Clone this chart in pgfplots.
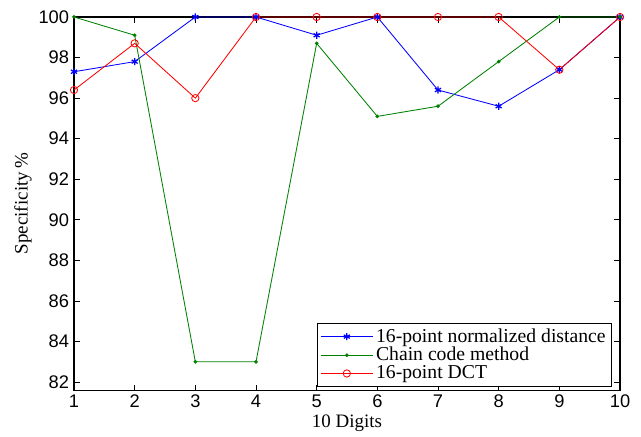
\documentclass[border=0pt]{standalone}
\usepackage{pgfplots}
\pgfplotsset{compat=1.18}
\usepackage{fontspec}
\setmainfont{Liberation Serif}
\newfontfamily\tickfont{Liberation Sans}
\begin{document}
\begin{tikzpicture}
\begin{axis}[
    name=ax,
    scale only axis,
    width=13.65cm, height=9.33cm,
    xmin=1, xmax=10, ymin=81.6, ymax=100,
    xtick={1,...,10},
    ytick={82,84,...,100},
    tick align=inside,
    major tick length=4pt,
    tick style={black, line width=0.6pt},
    axis line style={line width=0.8pt},
    ticklabel style={font=\tickfont\fontsize{13}{14}\selectfont},
    /pgf/number format/assume math mode=true,
    xlabel={10 Digits},
    ylabel={Specificity\,\%},
    label style={font=\fontsize{13.5}{14}\selectfont},
    xlabel style={yshift=2pt},
    ylabel style={yshift=-2pt},
    legend style={at={(0.985,0.008)}, anchor=south east, font=\fontsize{14}{15}\selectfont,
        draw=black, line width=0.8pt, row sep=-2pt, inner sep=2pt},
    legend cell align=left,
    legend image code/.code={\draw[#1] (0cm,0cm) -- (1.3cm,0cm); \draw[#1, only marks] plot coordinates {(0.65cm,0cm)};},
    clip=false,
]
\addplot[blue, line width=0.6pt, mark=asterisk, mark size=2.5pt, mark options={line width=0.9pt}] coordinates {
    (1,97.3) (2,97.8) (3,100) (4,100) (5,99.1) (6,100) (7,96.4) (8,95.6) (9,97.4) (10,100)
};
\addlegendentry{16-point normalized distance}
\addplot[black!50!green, line width=0.6pt, mark=*, mark size=1pt] coordinates {
    (1,100) (2,99.1) (3,83.0) (4,83.0) (5,98.7) (6,95.1) (7,95.6) (8,97.8) (9,100) (10,100)
};
\addlegendentry{Chain code method}
\addplot[red, line width=0.6pt, mark=o, mark size=2.6pt] coordinates {
    (1,96.4) (2,98.7) (3,96.0) (4,100) (5,100) (6,100) (7,100) (8,100) (9,97.4) (10,100)
};
\addlegendentry{16-point DCT}
\end{axis}
\useasboundingbox ([xshift=-1.85cm,yshift=-0.925cm]ax.south west) rectangle ([xshift=0.525cm,yshift=0.425cm]ax.north east);
\end{tikzpicture}
\end{document}
